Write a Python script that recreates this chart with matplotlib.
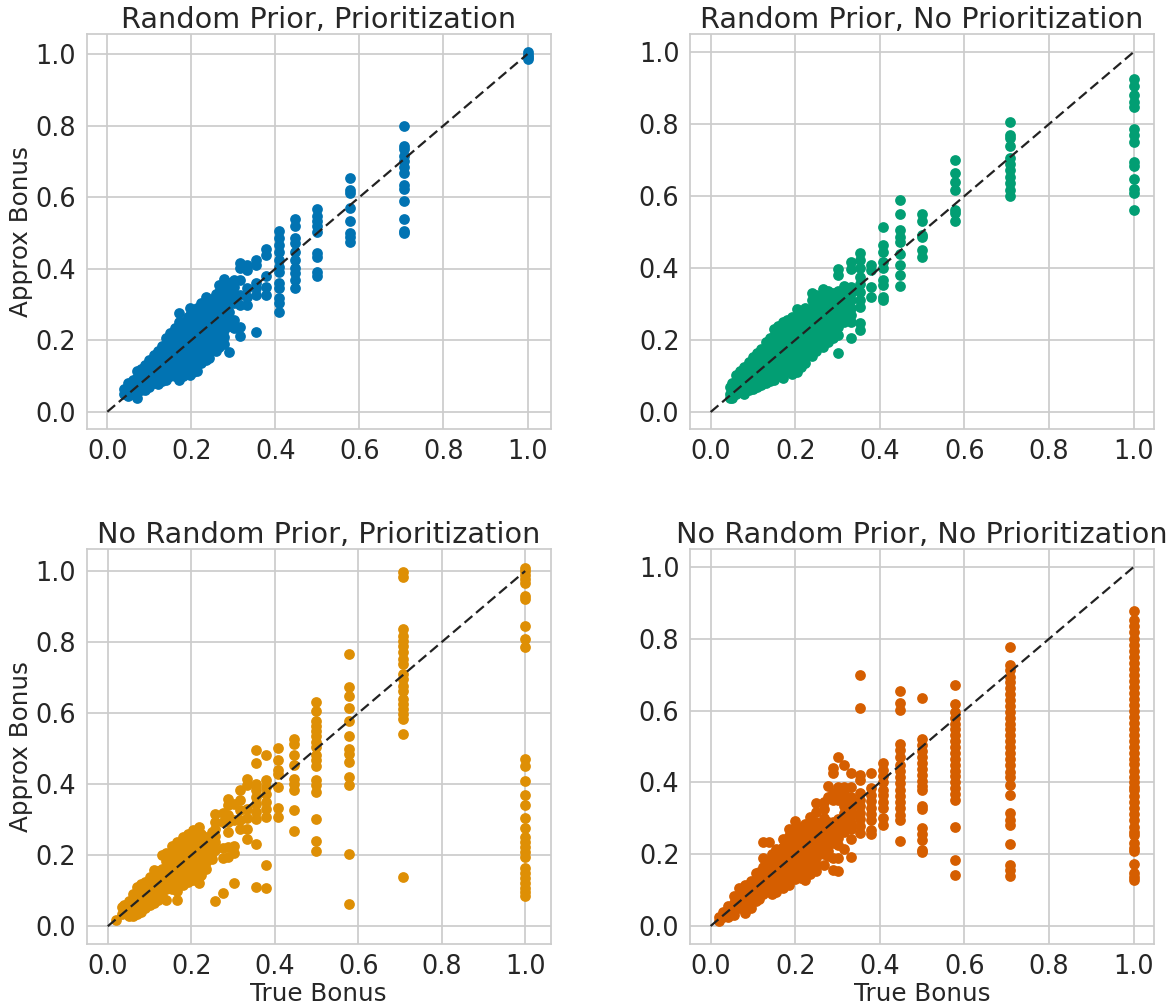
import matplotlib
matplotlib.use("Agg")
import matplotlib.pyplot as plt

titles = ["Random Prior, Prioritization", "Random Prior, No Prioritization",
          "No Random Prior, Prioritization", "No Random Prior, No Prioritization"]
colors = ["#0173b2", "#029e73", "#de8f05", "#d55e00"]
tick_vals = [0.0, 0.2, 0.4, 0.6, 0.8, 1.0]
xlims = [(-0.0495, 1.055), (-0.049, 1.048), (-0.051, 1.061), (-0.049, 1.048)]
ylims = [(-0.048, 1.056), (-0.047, 1.05), (-0.05, 1.062), (-0.05, 1.05)]

# each list: (true bonus, approx bonus values)
blue = [
    (1.0, [1.005, 0.998, 0.992, 0.985]),
    (0.707, [0.80, 0.743, 0.734, 0.715, 0.70, 0.685, 0.667, 0.634, 0.622, 0.59, 0.539, 0.506, 0.499]),
    (0.577, [0.654, 0.62, 0.611, 0.569, 0.533, 0.499, 0.488, 0.475]),
    (0.5, [0.566, 0.546, 0.532, 0.518, 0.502, 0.443, 0.432, 0.392, 0.38]),
    (0.447, [0.538, 0.518, 0.485, 0.471, 0.448, 0.425, 0.401, 0.387, 0.367, 0.347]),
    (0.408, [0.504, 0.485, 0.466, 0.448, 0.425, 0.406, 0.392, 0.359, 0.345, 0.318, 0.304, 0.28]),
    (0.378, [0.454, 0.439, 0.38, 0.348, 0.327]),
    (0.354, [0.425, 0.411, 0.359, 0.345, 0.327, 0.224]),
    (0.333, [0.411, 0.397, 0.345, 0.32, 0.299]),
    (0.316, [0.415, 0.401, 0.369, 0.327, 0.299, 0.238, 0.212]),
    (0.302, [0.369, 0.35, 0.327, 0.305, 0.257, 0.235]),
    (0.289, [0.359, 0.34, 0.32, 0.30, 0.28, 0.26, 0.24, 0.166]),
    (0.277, [0.37, 0.35, 0.33, 0.31, 0.29, 0.27, 0.25, 0.23, 0.21, 0.19]),
    (0.267, [0.355, 0.335, 0.315, 0.295, 0.275, 0.255, 0.235, 0.215, 0.195, 0.18]),
    (0.258, [0.33, 0.31, 0.29, 0.27, 0.25, 0.23, 0.21, 0.19, 0.17]),
    (0.25, [0.315, 0.295, 0.275, 0.255, 0.235, 0.215, 0.195, 0.175]),
    (0.243, [0.305, 0.285, 0.265, 0.245, 0.225, 0.205, 0.185, 0.165, 0.15]),
    (0.236, [0.32, 0.30, 0.28, 0.26, 0.24, 0.22, 0.20, 0.18, 0.16, 0.145]),
    (0.224, [0.305, 0.285, 0.265, 0.245, 0.225, 0.205, 0.185, 0.165, 0.15, 0.135]),
    (0.213, [0.29, 0.27, 0.25, 0.23, 0.21, 0.19, 0.17, 0.15, 0.13, 0.115]),
    (0.204, [0.285, 0.265, 0.245, 0.225, 0.205, 0.185, 0.165, 0.145, 0.125, 0.11]),
    (0.197, [0.29, 0.27, 0.103]),
    (0.192, [0.265, 0.245, 0.225, 0.205, 0.185, 0.165, 0.145, 0.125, 0.108]),
    (0.18, [0.25, 0.23, 0.21, 0.19, 0.17, 0.15, 0.13, 0.115, 0.10]),
    (0.171, [0.276, 0.25, 0.23, 0.21, 0.19, 0.17, 0.15, 0.13, 0.11, 0.09]),
    (0.16, [0.235, 0.215, 0.195, 0.175, 0.155, 0.135, 0.115, 0.10]),
    (0.15, [0.22, 0.20, 0.18, 0.16, 0.14, 0.12, 0.10]),
    (0.14, [0.205, 0.185, 0.165, 0.145, 0.125, 0.105, 0.09]),
    (0.13, [0.185, 0.165, 0.145, 0.125, 0.105, 0.085]),
    (0.12, [0.17, 0.15, 0.13, 0.11, 0.09, 0.078]),
    (0.11, [0.16, 0.14, 0.12, 0.10, 0.08]),
    (0.10, [0.145, 0.125, 0.105, 0.085, 0.07]),
    (0.09, [0.13, 0.11, 0.09, 0.07, 0.06]),
    (0.08, [0.12, 0.10, 0.08, 0.06]),
    (0.07, [0.113, 0.095, 0.075, 0.055, 0.038]),
    (0.06, [0.09, 0.07, 0.05]),
    (0.05, [0.08, 0.06, 0.045]),
    (0.04, [0.065, 0.05]),
]

green = [
    (1.0, [0.925, 0.906, 0.881, 0.862, 0.848, 0.785, 0.769, 0.751, 0.694, 0.683, 0.648, 0.619, 0.607, 0.561]),
    (0.707, [0.805, 0.769, 0.76, 0.74, 0.705, 0.69, 0.672, 0.654, 0.635, 0.617, 0.601]),
    (0.577, [0.70, 0.663, 0.64, 0.617, 0.561, 0.552, 0.531]),
    (0.5, [0.549, 0.531, 0.492, 0.485, 0.45, 0.43]),
    (0.447, [0.589, 0.551, 0.506, 0.487, 0.473, 0.439, 0.408, 0.381, 0.35]),
    (0.408, [0.513, 0.464, 0.445, 0.418, 0.399, 0.367, 0.353, 0.32, 0.311]),
    (0.378, [0.408, 0.394, 0.348, 0.32]),
    (0.354, [0.441, 0.422, 0.399, 0.376, 0.357, 0.334, 0.311, 0.293, 0.246, 0.228]),
    (0.333, [0.418, 0.396, 0.348, 0.33, 0.31, 0.29, 0.27, 0.25, 0.205]),
    (0.316, [0.35, 0.33, 0.31, 0.29, 0.27, 0.25]),
    (0.302, [0.397, 0.382, 0.335, 0.315, 0.295, 0.275, 0.255, 0.235, 0.215, 0.165]),
    (0.289, [0.33, 0.31, 0.29, 0.27, 0.25, 0.23, 0.205]),
    (0.277, [0.335, 0.315, 0.295, 0.275, 0.255, 0.235, 0.215, 0.195]),
    (0.265, [0.343, 0.32, 0.30, 0.28, 0.26, 0.24, 0.22, 0.20, 0.18]),
    (0.25, [0.325, 0.305, 0.285, 0.265, 0.245, 0.225, 0.205, 0.185, 0.17]),
    (0.24, [0.33, 0.31, 0.29, 0.27, 0.25, 0.23, 0.21, 0.19, 0.17, 0.155]),
    (0.224, [0.29, 0.27, 0.25, 0.23, 0.21, 0.19, 0.17, 0.15, 0.135]),
    (0.213, [0.28, 0.26, 0.24, 0.22, 0.20, 0.18, 0.16, 0.14, 0.125]),
    (0.204, [0.285, 0.265, 0.245, 0.225, 0.205, 0.185, 0.165, 0.145, 0.125, 0.11]),
    (0.192, [0.265, 0.245, 0.225, 0.205, 0.185, 0.165, 0.145, 0.125, 0.105]),
    (0.18, [0.255, 0.235, 0.215, 0.195, 0.175, 0.155, 0.135, 0.115]),
    (0.17, [0.25, 0.23, 0.21, 0.19, 0.17, 0.15, 0.13, 0.11, 0.095]),
    (0.16, [0.24, 0.22, 0.20, 0.18, 0.16, 0.14, 0.12, 0.10]),
    (0.15, [0.23, 0.21, 0.19, 0.17, 0.15, 0.13, 0.11, 0.09]),
    (0.14, [0.205, 0.185, 0.165, 0.145, 0.125, 0.105, 0.085]),
    (0.13, [0.195, 0.175, 0.155, 0.135, 0.115, 0.095, 0.08]),
    (0.12, [0.175, 0.155, 0.135, 0.115, 0.095, 0.075]),
    (0.11, [0.165, 0.145, 0.125, 0.105, 0.085, 0.07]),
    (0.10, [0.154, 0.135, 0.115, 0.095, 0.075, 0.065]),
    (0.09, [0.14, 0.12, 0.10, 0.08, 0.06]),
    (0.08, [0.125, 0.105, 0.085, 0.065, 0.05]),
    (0.07, [0.115, 0.095, 0.075, 0.055]),
    (0.06, [0.103, 0.085, 0.065, 0.05]),
    (0.05, [0.08, 0.06, 0.04]),
    (0.045, [0.07, 0.05, 0.038]),
]

orange = [
    (1.0, [1.009, 1.0, 0.99, 0.979, 0.967, 0.93, 0.92, 0.844, 0.808, 0.785, 0.471, 0.451, 0.409, 0.37, 0.34,
           0.305, 0.277, 0.252, 0.238, 0.224, 0.21, 0.196, 0.163, 0.149, 0.135, 0.121, 0.107, 0.097, 0.086]),
    (0.707, [0.998, 0.983, 0.836, 0.818, 0.804, 0.79, 0.771, 0.752, 0.738, 0.71, 0.696, 0.677, 0.663, 0.64,
             0.626, 0.612, 0.598, 0.584, 0.542, 0.139]),
    (0.577, [0.766, 0.674, 0.649, 0.614, 0.579, 0.537, 0.5, 0.485, 0.462, 0.42, 0.397, 0.203, 0.062]),
    (0.5, [0.632, 0.607, 0.579, 0.565, 0.551, 0.537, 0.518, 0.504, 0.481, 0.467, 0.451, 0.411, 0.397, 0.378,
           0.301, 0.241, 0.212]),
    (0.447, [0.526, 0.514, 0.481, 0.453, 0.415, 0.401, 0.384, 0.328, 0.268]),
    (0.408, [0.502, 0.469, 0.439, 0.429, 0.392, 0.333, 0.308]),
    (0.378, [0.481, 0.411, 0.392, 0.373, 0.35, 0.331, 0.308, 0.172, 0.109]),
    (0.354, [0.497, 0.46, 0.401, 0.383, 0.364, 0.345, 0.322, 0.301, 0.231, 0.111]),
    (0.333, [0.415, 0.397, 0.331, 0.305, 0.275, 0.247]),
    (0.316, [0.383, 0.355, 0.326, 0.298, 0.275]),
    (0.302, [0.345, 0.30, 0.205, 0.121, 0.226]),
    (0.289, [0.357, 0.34, 0.312, 0.294, 0.266, 0.224, 0.196]),
    (0.277, [0.32, 0.294, 0.22, 0.191, 0.094]),
    (0.258, [0.317, 0.294, 0.275, 0.255, 0.238, 0.071, 0.215]),
    (0.25, [0.265, 0.245, 0.225, 0.205, 0.19]),
    (0.236, [0.25, 0.23, 0.21, 0.19, 0.181, 0.16]),
    (0.224, [0.26, 0.24, 0.22, 0.20, 0.18, 0.16, 0.145]),
    (0.218, [0.28, 0.26, 0.24, 0.22, 0.20, 0.18, 0.16, 0.14, 0.121]),
    (0.204, [0.27, 0.25, 0.23, 0.21, 0.19, 0.17, 0.15, 0.13]),
    (0.192, [0.26, 0.24, 0.22, 0.20, 0.18, 0.16, 0.14, 0.125]),
    (0.18, [0.25, 0.23, 0.21, 0.19, 0.17, 0.15, 0.13, 0.115]),
    (0.167, [0.238, 0.22, 0.20, 0.18, 0.16, 0.14, 0.12, 0.10, 0.073]),
    (0.155, [0.225, 0.205, 0.185, 0.165, 0.145, 0.125, 0.105]),
    (0.14, [0.205, 0.185, 0.165, 0.145, 0.125, 0.105, 0.073]),
    (0.13, [0.20, 0.16, 0.14, 0.12, 0.10, 0.085]),
    (0.12, [0.155, 0.135, 0.115, 0.095, 0.075]),
    (0.11, [0.158, 0.14, 0.12, 0.10, 0.08, 0.065]),
    (0.10, [0.14, 0.12, 0.10, 0.08, 0.06]),
    (0.09, [0.125, 0.105, 0.085, 0.065, 0.05]),
    (0.08, [0.12, 0.10, 0.08, 0.06, 0.04]),
    (0.07, [0.111, 0.09, 0.07, 0.05, 0.035]),
    (0.06, [0.09, 0.07, 0.05, 0.03]),
    (0.05, [0.07, 0.05, 0.03]),
    (0.04, [0.06, 0.04]),
    (0.034, [0.055, 0.035]),
    (0.02, [0.018]),
]

red = [
    (1.0, [0.877, 0.852, 0.835, 0.818, 0.80, 0.783, 0.766, 0.75, 0.733, 0.716, 0.70, 0.683, 0.666, 0.65, 0.633,
           0.616, 0.60, 0.583, 0.566, 0.55, 0.533, 0.516, 0.50, 0.483, 0.466, 0.45, 0.433, 0.416, 0.40, 0.388,
           0.379, 0.362, 0.345, 0.328, 0.311, 0.294, 0.277, 0.262, 0.254, 0.231, 0.218, 0.208, 0.172, 0.147,
           0.137, 0.129]),
    (0.707, [0.776, 0.728, 0.712, 0.695, 0.679, 0.662, 0.646, 0.63, 0.613, 0.597, 0.58, 0.564, 0.548, 0.531, 0.515,
             0.498, 0.482, 0.466, 0.449, 0.43, 0.414, 0.393, 0.365, 0.314, 0.296, 0.282, 0.229, 0.171, 0.157, 0.138]),
    (0.577, [0.67, 0.618, 0.597, 0.58, 0.564, 0.548, 0.531, 0.515, 0.498, 0.482, 0.466, 0.449, 0.433, 0.417, 0.40,
             0.385, 0.368, 0.351, 0.275, 0.183, 0.143]),
    (0.5, [0.634, 0.52, 0.504, 0.488, 0.47, 0.455, 0.438, 0.42, 0.405, 0.39, 0.379, 0.335, 0.325, 0.272, 0.256,
           0.24, 0.212, 0.206]),
    (0.447, [0.654, 0.62, 0.601, 0.506, 0.49, 0.472, 0.449, 0.432, 0.415, 0.398, 0.38, 0.363, 0.345, 0.328, 0.31,
             0.296, 0.238]),
    (0.408, [0.453, 0.435, 0.417, 0.40, 0.38, 0.364, 0.346, 0.328, 0.30, 0.282]),
    (0.378, [0.425, 0.384, 0.366, 0.348, 0.33, 0.312, 0.296, 0.268, 0.256]),
    (0.354, [0.699, 0.606, 0.421, 0.407, 0.37, 0.352, 0.334, 0.316, 0.298, 0.28, 0.259]),
    (0.333, [0.425, 0.388, 0.36, 0.342, 0.324, 0.306, 0.288, 0.27, 0.243, 0.191]),
    (0.316, [0.449, 0.388, 0.37, 0.352, 0.334, 0.316, 0.298, 0.28, 0.262, 0.215]),
    (0.302, [0.47, 0.388, 0.37, 0.352, 0.298, 0.28, 0.262, 0.244, 0.226, 0.19, 0.152]),
    (0.289, [0.439, 0.425, 0.37, 0.352, 0.29, 0.27, 0.25, 0.23, 0.189, 0.157]),
    (0.277, [0.391, 0.36, 0.29, 0.27, 0.25, 0.23, 0.21, 0.195]),
    (0.267, [0.345, 0.325, 0.30, 0.28, 0.26, 0.24, 0.22, 0.20, 0.17]),
    (0.25, [0.342, 0.319, 0.29, 0.27, 0.25, 0.23, 0.21, 0.19, 0.17, 0.152]),
    (0.236, [0.305, 0.285, 0.265, 0.245, 0.225, 0.205, 0.185, 0.165, 0.145]),
    (0.224, [0.285, 0.265, 0.245, 0.225, 0.205, 0.185, 0.165, 0.145, 0.129]),
    (0.213, [0.275, 0.255, 0.235, 0.215, 0.195, 0.175, 0.155, 0.135]),
    (0.2, [0.293, 0.27, 0.25, 0.23, 0.21, 0.19, 0.17, 0.15, 0.13]),
    (0.186, [0.27, 0.25, 0.23, 0.21, 0.19, 0.17, 0.15, 0.13, 0.115]),
    (0.17, [0.242, 0.22, 0.20, 0.18, 0.16, 0.14, 0.12, 0.105]),
    (0.155, [0.215, 0.195, 0.175, 0.155, 0.135, 0.115, 0.095]),
    (0.145, [0.20, 0.18, 0.16, 0.14, 0.12, 0.10, 0.089]),
    (0.139, [0.234, 0.18, 0.16, 0.14, 0.12, 0.10]),
    (0.125, [0.234, 0.189, 0.165, 0.145, 0.125, 0.105, 0.09]),
    (0.115, [0.15, 0.13, 0.11, 0.09, 0.075]),
    (0.107, [0.147, 0.125, 0.105, 0.085, 0.07]),
    (0.095, [0.125, 0.105, 0.085, 0.065, 0.05]),
    (0.082, [0.115, 0.095, 0.075, 0.055, 0.036]),
    (0.068, [0.106, 0.085, 0.065, 0.05]),
    (0.055, [0.085, 0.065, 0.045, 0.03]),
    (0.04, [0.055, 0.04, 0.025]),
    (0.03, [0.04, 0.025]),
    (0.02, [0.025, 0.013]),
]
panels = [blue, green, orange, red]

plt.rcParams["font.family"] = "DejaVu Sans"
plt.rcParams["text.color"] = ".15"
plt.rcParams["axes.labelcolor"] = ".15"
plt.rcParams["xtick.color"] = ".15"
plt.rcParams["ytick.color"] = ".15"

fig, axes = plt.subplots(2, 2, figsize=(11.72, 10.07), dpi=100)
fig.subplots_adjust(left=86.5 / 1172, right=1154 / 1172, top=1 - 34 / 1007, bottom=1 - 944 / 1007,
                    wspace=0.3, hspace=0.304)

for i, ax in enumerate(axes.flat):
    xs = [x for x, ys in panels[i] for y in ys]
    ys_all = [y for x, ys in panels[i] for y in ys]
    ax.scatter(xs, ys_all, s=60, color=colors[i], linewidths=0, zorder=2)
    ax.plot([0, 1], [0, 1], "--", color="#222222", lw=1.6, dashes=(4.6, 2.2), zorder=3)
    ax.set_title(titles[i], fontsize=20.7, pad=3.5)
    ax.set_xlim(xlims[i])
    ax.set_ylim(ylims[i])
    ax.set_xticks(tick_vals)
    ax.set_yticks(tick_vals)
    ax.tick_params(length=0, labelsize=18.4, pad=7.5)
    ax.grid(True, color="#cccccc", lw=1.25)
    ax.set_axisbelow(True)
    for s in ax.spines.values():
        s.set_color("#cccccc")
        s.set_linewidth(1.25)

axes[0, 0].set_ylabel("Approx Bonus", fontsize=17.7, labelpad=2)
axes[1, 0].set_ylabel("Approx Bonus", fontsize=17.7, labelpad=2)
axes[1, 0].set_xlabel("True Bonus", fontsize=17.7, labelpad=1)
axes[1, 1].set_xlabel("True Bonus", fontsize=17.7, labelpad=1)

fig.savefig("out.png", dpi=100)
